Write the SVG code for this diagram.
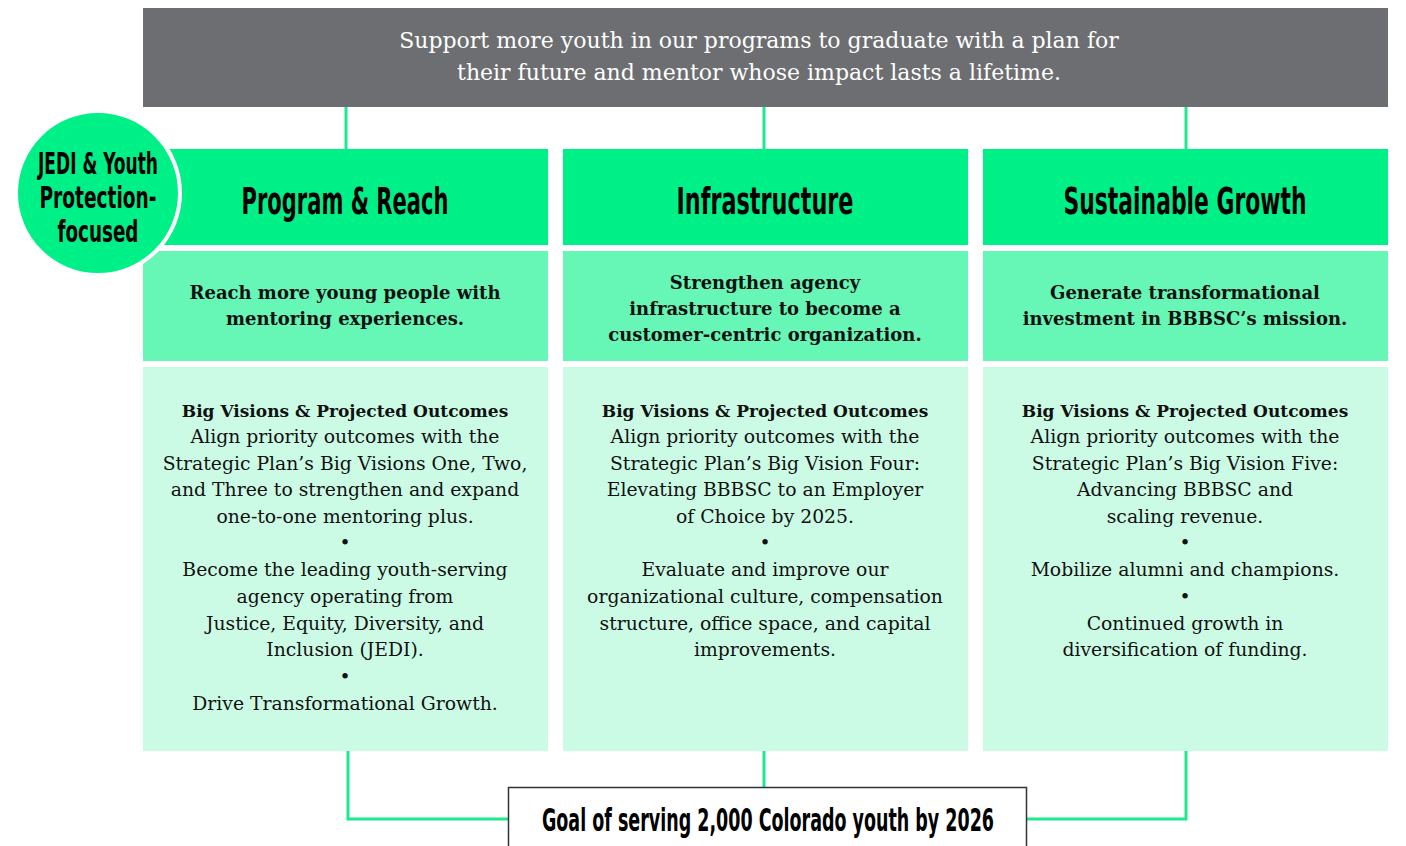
<svg xmlns="http://www.w3.org/2000/svg" width="1406" height="846" viewBox="0 0 1406 846">
<style>
.hdr{fill:#00f088}
.mid{fill:#66f6b5}
.bot{fill:#ccfbe5}
.cond{font-family:"Liberation Sans Narrow","DejaVu Sans Condensed",sans-serif;font-weight:bold;fill:#000;text-anchor:middle}
.h{font-size:38px}
.serif{font-family:"DejaVu Serif","Liberation Serif",serif;text-anchor:middle;fill:#111}
.b{font-size:17px;font-weight:bold}
.bm{font-size:18px;font-weight:bold}
.t{font-size:18.8px}
.ban{font-family:"DejaVu Serif","Liberation Serif",serif;text-anchor:middle;fill:#fff;font-size:22px}
.ln{fill:none;stroke:#1ee98b;stroke-width:3}
</style>
<rect width="1406" height="846" fill="#fff"/>
<g id="connectors">
<line class="ln" x1="346" y1="107" x2="346" y2="149"/>
<line class="ln" x1="764" y1="107" x2="764" y2="149"/>
<line class="ln" x1="1186" y1="107" x2="1186" y2="149"/>
<polyline class="ln" points="348,751 348,819 508,819"/>
<line class="ln" x1="764" y1="751" x2="764" y2="787"/>
<polyline class="ln" points="1186,751 1186,819 1027,819"/>
</g>
<g id="banner">
<rect x="143" y="8" width="1245" height="99" fill="#6d6e71"/>
<text class="ban" x="759" y="48">Support more youth in our programs to graduate with a plan for</text>
<text class="ban" x="759" y="80">their future and mentor whose impact lasts a lifetime.</text>
</g>
<g id="col-program">
<rect class="hdr" x="143" y="149" width="405" height="96"/>
<text class="cond h" x="345" y="214" textLength="207" lengthAdjust="spacingAndGlyphs">Program &amp; Reach</text>
<rect class="mid" x="143" y="251" width="405" height="110"/>
<text class="serif bm" x="345" y="299">Reach more young people with</text>
<text class="serif bm" x="345" y="325">mentoring experiences.</text>
<rect class="bot" x="143" y="367" width="405" height="384"/>
<text class="serif b" x="345" y="417">Big Visions &amp; Projected Outcomes</text>
<text class="serif t" x="345" y="443">Align priority outcomes with the</text>
<text class="serif t" x="345" y="470">Strategic Plan’s Big Visions One, Two,</text>
<text class="serif t" x="345" y="496">and Three to strengthen and expand</text>
<text class="serif t" x="345" y="523">one-to-one mentoring plus.</text>
<text class="serif t" x="345" y="549">•</text>
<text class="serif t" x="345" y="576">Become the leading youth-serving</text>
<text class="serif t" x="345" y="603">agency operating from</text>
<text class="serif t" x="345" y="630">Justice, Equity, Diversity, and</text>
<text class="serif t" x="345" y="656">Inclusion (JEDI).</text>
<text class="serif t" x="345" y="683">•</text>
<text class="serif t" x="345" y="710">Drive Transformational Growth.</text>
</g>
<g id="col-infrastructure">
<rect class="hdr" x="563" y="149" width="405" height="96"/>
<text class="cond h" x="765" y="214" textLength="177" lengthAdjust="spacingAndGlyphs">Infrastructure</text>
<rect class="mid" x="563" y="251" width="405" height="110"/>
<text class="serif bm" x="765" y="289">Strengthen agency</text>
<text class="serif bm" x="765" y="315">infrastructure to become a</text>
<text class="serif bm" x="765" y="341">customer-centric organization.</text>
<rect class="bot" x="563" y="367" width="405" height="384"/>
<text class="serif b" x="765" y="417">Big Visions &amp; Projected Outcomes</text>
<text class="serif t" x="765" y="443">Align priority outcomes with the</text>
<text class="serif t" x="765" y="470">Strategic Plan’s Big Vision Four:</text>
<text class="serif t" x="765" y="496">Elevating BBBSC to an Employer</text>
<text class="serif t" x="765" y="523">of Choice by 2025.</text>
<text class="serif t" x="765" y="549">•</text>
<text class="serif t" x="765" y="576">Evaluate and improve our</text>
<text class="serif t" x="765" y="603">organizational culture, compensation</text>
<text class="serif t" x="765" y="630">structure, office space, and capital</text>
<text class="serif t" x="765" y="656">improvements.</text>
</g>
<g id="col-growth">
<rect class="hdr" x="983" y="149" width="405" height="96"/>
<text class="cond h" x="1185" y="214" textLength="243" lengthAdjust="spacingAndGlyphs">Sustainable Growth</text>
<rect class="mid" x="983" y="251" width="405" height="110"/>
<text class="serif bm" x="1185" y="299">Generate transformational</text>
<text class="serif bm" x="1185" y="325">investment in BBBSC’s mission.</text>
<rect class="bot" x="983" y="367" width="405" height="384"/>
<text class="serif b" x="1185" y="417">Big Visions &amp; Projected Outcomes</text>
<text class="serif t" x="1185" y="443">Align priority outcomes with the</text>
<text class="serif t" x="1185" y="470">Strategic Plan’s Big Vision Five:</text>
<text class="serif t" x="1185" y="496">Advancing BBBSC and</text>
<text class="serif t" x="1185" y="523">scaling revenue.</text>
<text class="serif t" x="1185" y="549">•</text>
<text class="serif t" x="1185" y="576">Mobilize alumni and champions.</text>
<text class="serif t" x="1185" y="603">•</text>
<text class="serif t" x="1185" y="630">Continued growth in</text>
<text class="serif t" x="1185" y="656">diversification of funding.</text>
</g>
<g id="jedi-badge">
<circle cx="98" cy="193" r="82" fill="#00f088" stroke="#fff" stroke-width="4"/>
<text class="cond" font-size="30" x="98" y="174" textLength="120" lengthAdjust="spacingAndGlyphs">JEDI &amp; Youth</text>
<text class="cond" font-size="30" x="98" y="208" textLength="117" lengthAdjust="spacingAndGlyphs">Protection-</text>
<text class="cond" font-size="30" x="98" y="242" textLength="81" lengthAdjust="spacingAndGlyphs">focused</text>
</g>
<g id="goal">
<rect x="508.5" y="787.5" width="518" height="70" fill="#fff" stroke="#333" stroke-width="1.5"/>
<text class="cond" font-size="32" x="768" y="831" textLength="452" lengthAdjust="spacingAndGlyphs">Goal of serving 2,000 Colorado youth by 2026</text>
</g>
</svg>
